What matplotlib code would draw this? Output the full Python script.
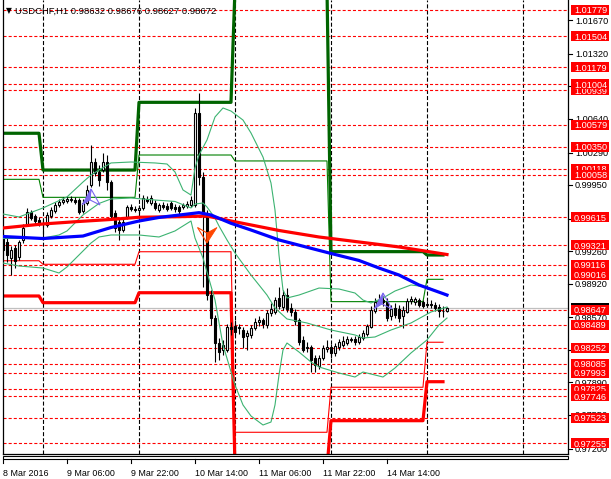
import matplotlib
matplotlib.use("Agg")
import matplotlib.pyplot as plt
import matplotlib.transforms as mtransforms
from matplotlib.patches import Rectangle, Polygon

plt.rcParams['lines.scale_dashes'] = False
plt.rcParams['font.family'] = ['Liberation Sans', 'DejaVu Sans']

# USDCHF H1 bars, bar 0 = 8 Mar 2016 14:00 ... bar 111 = 15 Mar 05:00
opens = [0.99409, 0.99357, 0.99190, 0.99294, 0.99200, 0.99378, 0.99545, 0.99670, 0.99628, 0.99586,
         0.99555, 0.99534, 0.99628, 0.99680, 0.99743, 0.99774, 0.99785, 0.99795, 0.99795, 0.99795,
         0.99680, 0.99764, 0.99952, 1.00192, 1.00088, 1.00108, 1.00192, 0.99983, 0.99660, 0.99566,
         0.99482, 0.99618, 0.99722, 0.99701, 0.99691, 0.99712, 0.99806, 0.99764, 0.99764, 0.99691,
         0.99743, 0.99733, 0.99764, 0.99722, 0.99722, 0.99722, 0.99733, 0.99743, 0.99743, 1.00704,
         1.00035, 0.99639, 0.98803, 0.98563, 0.98302, 0.98229, 0.98229, 0.98469, 0.98480, 0.98459,
         0.98438, 0.98375, 0.98386, 0.98459, 0.98521, 0.98542, 0.98490, 0.98615, 0.98626, 0.98772,
         0.98678, 0.98803, 0.98668, 0.98626, 0.98542, 0.98334, 0.98250, 0.98260, 0.98146, 0.98062,
         0.98146, 0.98240, 0.98260, 0.98198, 0.98260, 0.98281, 0.98302, 0.98344, 0.98344, 0.98313,
         0.98354, 0.98396, 0.98469, 0.98636, 0.98730, 0.98751, 0.98730, 0.98584, 0.98668, 0.98657,
         0.98584, 0.98626, 0.98741, 0.98730, 0.98751, 0.98730, 0.98699, 0.98709, 0.98699, 0.98678,
         0.98636, 0.98632]
highs = [0.99451, 0.99398, 0.99315, 0.99325, 0.99378, 0.99545, 0.99712, 0.99691, 0.99649, 0.99618,
         0.99586, 0.99670, 0.99722, 0.99774, 0.99806, 0.99827, 0.99837, 0.99837, 0.99827, 0.99816,
         0.99806, 0.99952, 1.00370, 1.00234, 1.00161, 1.00286, 1.00265, 1.00004, 0.99691, 0.99607,
         0.99597, 0.99743, 0.99753, 0.99733, 0.99743, 0.99847, 0.99837, 0.99847, 0.99795, 0.99764,
         0.99774, 0.99764, 0.99785, 0.99753, 0.99743, 0.99764, 0.99785, 0.99837, 1.00756, 1.00912,
         1.00088, 0.99691, 0.98856, 0.98595, 0.98354, 0.98334, 0.98501, 0.98521, 0.98542, 0.98501,
         0.98469, 0.98438, 0.98490, 0.98563, 0.98584, 0.98563, 0.98647, 0.98720, 0.98782, 0.98887,
         0.98856, 0.98876, 0.98720, 0.98657, 0.98563, 0.98375, 0.98313, 0.98281, 0.98177, 0.98177,
         0.98281, 0.98334, 0.98292, 0.98302, 0.98344, 0.98375, 0.98375, 0.98365, 0.98375, 0.98396,
         0.98438, 0.98501, 0.98689, 0.98772, 0.98814, 0.98793, 0.98772, 0.98699, 0.98720, 0.98699,
         0.98689, 0.98772, 0.98793, 0.98782, 0.98772, 0.98751, 0.98741, 0.98751, 0.98730, 0.98709,
         0.98689, 0.98676]
lows = [0.99221, 0.99148, 0.99012, 0.99085, 0.99169, 0.99346, 0.99524, 0.99586, 0.99545, 0.99524,
        0.99409, 0.99513, 0.99607, 0.99660, 0.99722, 0.99753, 0.99764, 0.99774, 0.99753, 0.99649,
        0.99660, 0.99743, 0.99931, 1.00046, 0.99941, 1.00088, 0.99900, 0.99607, 0.99461, 0.99378,
        0.99461, 0.99597, 0.99680, 0.99670, 0.99660, 0.99691, 0.99764, 0.99743, 0.99691, 0.99670,
        0.99701, 0.99680, 0.99691, 0.99670, 0.99649, 0.99701, 0.99712, 0.99722, 0.99722, 0.99952,
        0.98887, 0.98751, 0.98490, 0.98104, 0.98125, 0.98177, 0.98208, 0.98386, 0.98375, 0.98396,
        0.98250, 0.98229, 0.98354, 0.98438, 0.98480, 0.98459, 0.98459, 0.98584, 0.98605, 0.98657,
        0.98647, 0.98626, 0.98584, 0.98490, 0.98281, 0.98208, 0.98208, 0.97999, 0.97999, 0.98031,
        0.98125, 0.98208, 0.98146, 0.98166, 0.98229, 0.98260, 0.98281, 0.98313, 0.98281, 0.98292,
        0.98334, 0.98375, 0.98459, 0.98615, 0.98699, 0.98689, 0.98532, 0.98542, 0.98563, 0.98521,
        0.98459, 0.98615, 0.98709, 0.98699, 0.98678, 0.98668, 0.98678, 0.98668, 0.98636, 0.98574,
        0.98574, 0.98627]
closes = [0.99273, 0.99221, 0.99273, 0.99158, 0.99357, 0.99503, 0.99670, 0.99607, 0.99576, 0.99555,
          0.99545, 0.99639, 0.99691, 0.99743, 0.99774, 0.99795, 0.99806, 0.99806, 0.99774, 0.99670,
          0.99764, 0.99900, 1.00192, 1.00077, 1.00004, 1.00192, 0.99983, 0.99628, 0.99503, 0.99482,
          0.99566, 0.99722, 0.99701, 0.99691, 0.99712, 0.99816, 0.99785, 0.99816, 0.99712, 0.99743,
          0.99722, 0.99701, 0.99712, 0.99701, 0.99680, 0.99743, 0.99753, 0.99795, 1.00704, 1.00035,
          0.99639, 0.98803, 0.98563, 0.98302, 0.98208, 0.98281, 0.98469, 0.98448, 0.98417, 0.98469,
          0.98365, 0.98407, 0.98459, 0.98521, 0.98542, 0.98501, 0.98615, 0.98657, 0.98751, 0.98689,
          0.98803, 0.98657, 0.98626, 0.98532, 0.98313, 0.98229, 0.98260, 0.98125, 0.98072, 0.98146,
          0.98250, 0.98260, 0.98198, 0.98271, 0.98313, 0.98323, 0.98344, 0.98334, 0.98313, 0.98365,
          0.98407, 0.98480, 0.98647, 0.98730, 0.98751, 0.98730, 0.98563, 0.98657, 0.98595, 0.98563,
          0.98647, 0.98741, 0.98762, 0.98762, 0.98699, 0.98689, 0.98709, 0.98699, 0.98668, 0.98636,
          0.98632, 0.98672]

# moving averages (read at selected bars)
red_ma_bars = [0, 10, 19, 27, 34, 44, 51, 57, 69, 79, 89, 99, 111]
red_ma = [0.99503, 0.99545, 0.99571, 0.99592, 0.99615, 0.99621, 0.99628, 0.99576, 0.99477,
          0.99409, 0.99357, 0.99305, 0.99226]
blue_ma_bars = [0, 10, 20, 27, 34, 39, 49, 52, 57, 62, 69, 77, 82, 89, 94, 99, 104, 111]
blue_ma = [0.99414, 0.99393, 0.99419, 0.99508, 0.99576, 0.99613, 0.99663, 0.99639, 0.99552,
           0.99482, 0.99378, 0.99291, 0.99237, 0.99164, 0.99085, 0.99012, 0.98908, 0.98803]

# bollinger bands
bb_up_bars = [0, 4, 10, 16, 20, 22, 24, 27, 32, 38, 41, 43, 45, 47, 48, 49, 51, 53, 55, 57,
              60, 62, 65, 67, 68, 69, 70, 71, 74, 79, 84, 88, 90, 92, 95, 98, 102, 106, 109, 111]
bb_up = [0.99649, 0.99618, 0.99712, 0.99827, 0.99983, 1.00056, 1.00108, 1.00182, 1.00192, 1.00182,
         1.00171, 1.00088, 0.99900, 0.99847, 1.00129, 1.00265, 1.00422, 1.00662, 1.00756, 1.00724,
         1.00630, 1.00495, 1.00244, 0.99973, 0.99691, 0.99221, 0.98856, 0.98772, 0.98803, 0.98876,
         0.98866, 0.98824, 0.98751, 0.98720, 0.98772, 0.98845, 0.98908, 0.98887, 0.98835, 0.98793]
bb_mid_bars = [0, 10, 14, 16, 20, 24, 27, 32, 38, 43, 47, 48, 50, 51, 53, 54, 56, 58, 62, 64,
               66, 68, 71, 76, 82, 88, 90, 93, 97, 102, 107, 111]
bb_mid = [0.99393, 0.99398, 0.99430, 0.99472, 0.99639, 0.99759, 0.99806, 0.99816, 0.99795, 0.99780,
          0.99712, 0.99753, 0.99764, 0.99722, 0.99607, 0.99524, 0.99378, 0.99242, 0.99012, 0.98908,
          0.98803, 0.98668, 0.98553, 0.98511, 0.98438, 0.98386, 0.98354, 0.98365, 0.98438, 0.98511,
          0.98626, 0.98678]
bb_low_bars = [0, 4, 10, 14, 16, 19, 22, 24, 27, 34, 39, 43, 45, 47, 48, 50, 51, 53, 55, 58,
               60, 62, 65, 67, 68, 69, 70, 71, 72, 74, 77, 79, 84, 88, 90, 93, 95, 98, 102, 106,
               109, 111]
bb_low = [0.99137, 0.99106, 0.99085, 0.99033, 0.99096, 0.99221, 0.99346, 0.99409, 0.99430, 0.99430,
          0.99409, 0.99472, 0.99524, 0.99576, 0.99398, 0.99190, 0.99043, 0.98751, 0.98281, 0.97864,
          0.97655, 0.97540, 0.97446, 0.97477, 0.97655, 0.97968, 0.98229, 0.98302, 0.98271, 0.98208,
          0.98104, 0.98052, 0.97989, 0.97947, 0.97999, 0.97968, 0.97947, 0.98041, 0.98198, 0.98334,
          0.98490, 0.98563]

# daily levels: 8, 9, 10, 11, 14, 15 Mar
day_first = [0, 10, 34, 58, 82, 106]
day_last = [9, 33, 57, 81, 105, 110]
res_thick = [1.00492, 1.00108, 1.00815, 1.02000, 0.99256, 0.99221]
res_thin = [1.00011, 0.99823, 1.00265, 1.00203, 0.98734, 0.98967]
sup_thin = [0.99161, 0.99124, 0.99255, 0.97370, 0.97840, 0.98310]
sup_thick = [0.98793, 0.98723, 0.98827, 0.97000, 0.97491, 0.97898]

# horizontal lines with price labels (drawn in this order)
level_lines = [1.01779, 1.01504, 1.01179, 1.00939, 1.01004, 1.00579, 1.00350, 1.00118, 1.00058,
               0.99615, 0.99321, 0.99116, 0.99016, 0.98647, 0.98489, 0.98252, 0.98085, 0.97993,
               0.97825, 0.97746, 0.97523, 0.97255]
bid = 0.98672
price_ticks = [1.01670, 1.01320, 1.00990, 1.00640, 1.00290, 0.99950, 0.99600, 0.99260, 0.98920,
               0.98570, 0.98230, 0.97890, 0.97550, 0.97200]
day_lines = [10, 34, 58, 82, 106, 130]
xlabel_bars = [0, 16, 32, 48, 64, 80, 96]
xlabel_texts = ['8 Mar 2016', '9 Mar 06:00', '9 Mar 22:00', '10 Mar 14:00',
                '11 Mar 06:00', '11 Mar 22:00', '14 Mar 14:00']

# buy / sell arrows (bar, price)
buy_arrows = [(22, 0.99827), (95, 0.98741)]
sell_arrows = [(51, 0.99430)]

W, H = 611, 479
fig = plt.figure(figsize=(W / 100, H / 100), dpi=100)
ax = fig.add_axes([2.7 / W, (H - 454) / H, (568.3 - 2.7) / W, 454 / H])
ymin, ymax = 0.971432, 1.018834
ax.set_xlim(-0.075, 141.33)
ax.set_ylim(ymin, ymax)
ppx = (ymax - ymin) / 454
ax.set_xticks([])
ax.set_yticks([])
ax.spines['top'].set_visible(False)
for s in ['left', 'right', 'bottom']:
    ax.spines[s].set_linewidth(0.9)

for b in day_lines:
    ax.axvline(b, color='black', lw=0.8, dashes=(2.9, 1.5), zorder=1)
for lv in level_lines:
    ax.axhline(lv, color='red', lw=0.8, dashes=(2.2, 1.5), zorder=1.2)
ax.axhline(bid, color='#c0c0c0', lw=0.9, zorder=1.3)


def day_steps(vals):
    xs, ys = [], []
    for a, b, v in zip(day_first, day_last, vals):
        xs += [a, b]
        ys += [v, v]
    return xs, ys


ax.plot(*day_steps(res_thin), color='#008000', lw=0.8, zorder=2)
ax.plot(*day_steps(sup_thin), color='red', lw=0.8, zorder=2)
ax.plot(*day_steps(res_thick), color='#006400', lw=2.3, zorder=2.1)
ax.plot(*day_steps(sup_thick), color='red', lw=2.3, zorder=2.1)

# candles
for i, (o, h, l, c) in enumerate(zip(opens, highs, lows, closes)):
    ax.plot([i, i], [l, h], color='black', lw=0.8, zorder=3, solid_capstyle='butt')
    ax.add_patch(Rectangle((i - 0.36, min(o, c)), 0.72, abs(c - o),
                           facecolor='white' if c >= o else 'black',
                           edgecolor='black', lw=0.8, zorder=3.1))

for bx, vals in [(bb_up_bars, bb_up), (bb_mid_bars, bb_mid), (bb_low_bars, bb_low)]:
    ax.plot(bx, vals, color='#3cb371', lw=0.8, zorder=4)
ax.plot(red_ma_bars, red_ma, color='red', lw=2.3, zorder=4.2)
ax.plot(blue_ma_bars, blue_ma, color='blue', lw=2.3, zorder=4.3)


def arrow(bx, py, solid, hollow, color):
    tr = mtransforms.ScaledTranslation(bx, py, ax.transData)
    ax.add_patch(Polygon(solid, closed=True, transform=tr, fc=color, ec=color,
                         lw=0.6, zorder=6))
    ax.add_patch(Polygon(hollow, closed=True, transform=tr, fill=False, ec=color,
                         lw=0.8, zorder=6))


for bx, py in buy_arrows:
    arrow(bx, py, [(0, 8), (-9, -8), (-1, -3)], [(0, 8), (-1, -3), (9, -8)], '#7b68ee')
for bx, py in sell_arrows:
    arrow(bx, py, [(0, -8), (0, 2), (10, 7.5)], [(0, -8), (-9.5, 7.5), (0, 2)], '#ff4500')

# right price scale
ytr = mtransforms.blended_transform_factory(fig.transFigure, ax.transData)
for t in price_ticks:
    ax.plot([568.3 / W, 572 / W], [t, t], transform=ytr, color='black', lw=0.8, clip_on=False)
    ax.text(575 / W, t - 3.3 * ppx, f'{t:.5f}', transform=ytr, color='black', fontsize=6.6,
            va='baseline', ha='left', clip_on=False, zorder=5)

ax.add_patch(Rectangle((570.7 / W, bid - 5 * ppx), 38.6 / W, 10 * ppx, transform=ytr,
                       fc='black', ec='none', clip_on=False, zorder=6))
ax.text(574 / W, bid - 3.3 * ppx, f'{bid:.5f}', transform=ytr, color='white', fontsize=6.6,
        va='baseline', ha='left', clip_on=False, zorder=6.01)
for k, lv in enumerate(level_lines):
    z = 7 + k * 0.02
    ax.add_patch(Rectangle((570.7 / W, lv - 5 * ppx), 38.6 / W, 10 * ppx, transform=ytr,
                           fc='red', ec='none', clip_on=False, zorder=z))
    ax.text(574 / W, lv - 3.3 * ppx, f'{lv:.5f}', transform=ytr, color='white', fontsize=6.6,
            va='baseline', ha='left', clip_on=False, zorder=z + 0.01)

# bottom scroll strip and time scale
fig.add_artist(Rectangle((2.7 / W, (H - 458.5) / H), (568.3 - 2.7) / W, 3 / H,
                         transform=fig.transFigure, fill=False, ec='black', lw=0.8))
xtr = mtransforms.blended_transform_factory(ax.transData, fig.transFigure)
for b, lab in zip(xlabel_bars, xlabel_texts):
    ax.plot([b, b], [(H - 459) / H, (H - 463) / H], transform=xtr, color='black', lw=0.8,
            clip_on=False)
    ax.text(b, (H - 475.5) / H, lab, transform=xtr, fontsize=6.4, color='black',
            va='baseline', ha='left', clip_on=False)

fig.text(6 / W, (H - 13.5) / H, '\u25bc', family='DejaVu Sans', fontsize=5.5, color='black',
         va='baseline')
fig.text(15 / W, (H - 13.5) / H, 'USDCHF,H1 0.98632 0.98676 0.98627 0.98672', fontsize=6.8,
         color='black', va='baseline')

fig.savefig('out.png', dpi=100, facecolor='white')
